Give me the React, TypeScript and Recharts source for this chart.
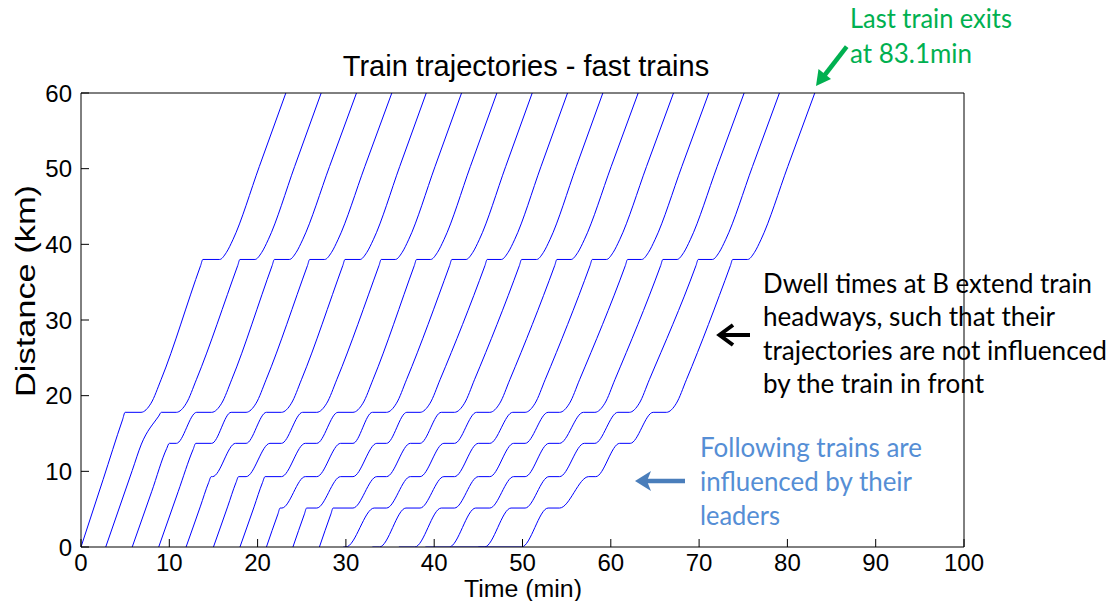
import React from "react";
import { LineChart, Line, XAxis, YAxis } from "recharts";

// ---- axis ticks ----
const X_TICKS = [0, 10, 20, 30, 40, 50, 60, 70, 80, 90, 100];
const Y_TICKS = [0, 10, 20, 30, 40, 50, 60];

// ---- train trajectories: [time (min), distance (km)] key points ----
type P = [number, number];
const TRAIN_01: P[] = [[0,0],[2.5,8.9],[4.7,16.8],[5.0,17.8],[6.8,17.8],[7.93,19.0],[9.06,22.1],[13.55,37.2],[13.8,38],[15.7,38],[16.45,38.9],[17.2,40.6],[20.2,50.3],[23.2,60]];
const TRAIN_02: P[] = [[2.8,0],[5.8,10.1],[6.84,13.6],[8.8,17.3],[9.1,17.8],[10.8,17.8],[11.93,19.0],[13.06,22.1],[17.75,37.2],[18.0,38],[19.7,38],[20.45,38.9],[21.2,40.6],[24.2,50.3],[27.2,60]];
const TRAIN_03: P[] = [[5.8,0],[8.0,7.3],[9.7,13.0],[10.0,13.7],[10.8,13.7],[13.1,17.8],[14.8,17.8],[15.93,19.0],[17.06,22.1],[21.65,37.2],[21.9,38],[23.6,38],[24.35,38.9],[25.1,40.6],[28.15,50.3],[31.2,60]];
const TRAIN_04: P[] = [[8.8,0],[11.0,7.3],[12.7,12.9],[13.0,13.7],[14.8,13.7],[17.0,17.8],[18.7,17.8],[19.83,19.0],[20.96,22.1],[25.65,37.2],[25.9,38],[27.6,38],[28.35,38.9],[29.1,40.6],[32.15,50.3],[35.2,60]];
const TRAIN_05: P[] = [[11.9,0],[13.5,5.3],[14.45,8.5],[14.75,9.3],[14.9,9.3],[17.5,13.7],[18.7,13.7],[21.0,17.8],[22.7,17.8],[23.83,19.0],[24.96,22.1],[29.65,37.2],[29.9,38],[31.6,38],[32.35,38.9],[33.1,40.6],[36.1,50.3],[39.1,60]];
const TRAIN_06: P[] = [[15.0,0],[16.6,5.3],[17.55,8.5],[17.85,9.3],[18.7,9.3],[21.4,13.7],[22.7,13.7],[25.1,17.8],[26.7,17.8],[27.83,19.0],[28.96,22.1],[33.75,37.2],[34.0,38],[35.6,38],[36.35,38.9],[37.1,40.6],[40.1,50.3],[43.1,60]];
const TRAIN_07: P[] = [[18.0,0],[19.6,5.3],[20.55,8.5],[20.85,9.3],[22.7,9.3],[25.4,13.7],[26.7,13.7],[29.1,17.8],[30.8,17.8],[31.93,19.0],[33.06,22.1],[37.75,37.2],[38.0,38],[39.6,38],[40.35,38.9],[41.1,40.6],[44.1,50.3],[47.1,60]];
const TRAIN_08: P[] = [[21.0,0],[22.3,4.35],[22.55,5.15],[22.75,5.15],[25.4,9.3],[26.7,9.3],[29.4,13.7],[30.8,13.7],[33.0,17.8],[34.6,17.8],[35.73,19.0],[36.86,22.1],[41.75,37.2],[42.0,38],[43.6,38],[44.35,38.9],[45.1,40.6],[48.1,50.3],[51.1,60]];
const TRAIN_09: P[] = [[24.0,0],[25.3,4.35],[25.55,5.15],[26.7,5.15],[29.4,9.3],[30.8,9.3],[33.5,13.7],[34.6,13.7],[36.9,17.8],[38.4,17.8],[39.53,19.0],[40.66,22.1],[45.75,37.2],[46.0,38],[47.6,38],[48.35,38.9],[49.1,40.6],[52.1,50.3],[55.1,60]];
const TRAIN_10: P[] = [[27.0,0],[28.3,4.35],[28.55,5.15],[30.8,5.15],[33.5,9.3],[34.6,9.3],[37.3,13.7],[38.4,13.7],[40.8,17.8],[42.3,17.8],[43.43,19.0],[44.56,22.1],[49.65,37.2],[49.9,38],[51.6,38],[52.35,38.9],[53.1,40.6],[56.1,50.3],[59.1,60]];
const TRAIN_11: P[] = [[29.7,0],[30.0,0],[33.2,5.15],[34.6,5.15],[37.3,9.3],[38.4,9.3],[41.1,13.7],[42.3,13.7],[44.8,17.8],[46.3,17.8],[47.43,19.0],[48.56,22.1],[53.65,37.2],[53.9,38],[55.5,38],[56.25,38.9],[57.0,40.6],[60.05,50.3],[63.1,60]];
const TRAIN_12: P[] = [[33.0,0],[33.8,0],[36.8,5.15],[38.4,5.15],[41.1,9.3],[42.3,9.3],[45.0,13.7],[46.3,13.7],[48.9,17.8],[50.3,17.8],[51.43,19.0],[52.56,22.1],[57.65,37.2],[57.9,38],[59.5,38],[60.25,38.9],[61.0,40.6],[64.05,50.3],[67.1,60]];
const TRAIN_13: P[] = [[36.0,0],[37.8,0],[40.8,5.15],[42.3,5.15],[45.0,9.3],[46.3,9.3],[49.0,13.7],[50.3,13.7],[52.9,17.8],[54.2,17.8],[55.33,19.0],[56.46,22.1],[61.65,37.2],[61.9,38],[63.5,38],[64.25,38.9],[65.0,40.6],[68.05,50.3],[71.1,60]];
const TRAIN_14: P[] = [[39.0,0],[41.7,0],[44.7,5.15],[46.3,5.15],[49.0,9.3],[50.3,9.3],[53.0,13.7],[54.2,13.7],[56.9,17.8],[58.2,17.8],[59.33,19.0],[60.46,22.1],[65.65,37.2],[65.9,38],[67.5,38],[68.25,38.9],[69.0,40.6],[72.05,50.3],[75.1,60]];
const TRAIN_15: P[] = [[42.0,0],[45.7,0],[48.7,5.15],[50.3,5.15],[53.0,9.3],[54.2,9.3],[57.0,13.7],[58.2,13.7],[60.8,17.8],[62.1,17.8],[63.23,19.0],[64.36,22.1],[69.65,37.2],[69.9,38],[71.5,38],[72.25,38.9],[73.0,40.6],[76.05,50.3],[79.1,60]];
const TRAIN_16: P[] = [[45.0,0],[49.9,0],[52.9,5.15],[54.2,5.15],[57.5,9.3],[58.3,9.3],[61.0,13.7],[62.2,13.7],[64.8,17.8],[66.3,17.8],[67.43,19.0],[68.56,22.1],[73.55,37.2],[73.8,38],[75.5,38],[76.25,38.9],[77.0,40.6],[80.05,50.3],[83.1,60]];

const TRAINS: P[][] = [
  TRAIN_01, TRAIN_02, TRAIN_03, TRAIN_04, TRAIN_05, TRAIN_06, TRAIN_07, TRAIN_08,
  TRAIN_09, TRAIN_10, TRAIN_11, TRAIN_12, TRAIN_13, TRAIN_14, TRAIN_15, TRAIN_16,
];

const SERIES = TRAINS.map((pts) => pts.map(([t, d]) => ({ t, d })));

// ---- text ----
const TITLE = "Train trajectories - fast trains";
const X_LABEL = "Time (min)";
const Y_LABEL = "Distance (km)";
const NOTE_GREEN = ["Last train exits", "at 83.1min"];
const NOTE_BLACK = [
  "Dwell times at B extend train",
  "headways, such that their",
  "trajectories are not influenced",
  "by the train in front",
];
const NOTE_BLUE = ["Following trains are", "influenced by their", "leaders"];

const CHART_W = 1104;
const CHART_H = 593;
const AXIS_FONT = "'Liberation Sans', Arial, Helvetica, sans-serif";
const NOTE_FONT = "Lato, 'Open Sans', sans-serif";
const tickStyle = { fontFamily: AXIS_FONT, fontSize: 24, fill: "#000" };

export default function App() {
  return (
    <div style={{ position: "relative", width: CHART_W, height: CHART_H }}>
      <LineChart
        width={CHART_W}
        height={CHART_H}
        margin={{ top: 84, right: 147, bottom: 24, left: 0 }}
      >
        <XAxis
          xAxisId="b"
          dataKey="t"
          type="number"
          domain={[0, 100]}
          ticks={X_TICKS}
          allowDataOverflow
          height={30}
          tick={tickStyle}
          tickSize={-8}
          tickMargin={15}
          axisLine={{ stroke: "#000", strokeWidth: 1 }}
          tickLine={{ stroke: "#000", strokeWidth: 1 }}
        />
        <XAxis
          xAxisId="t"
          orientation="top"
          dataKey="t"
          type="number"
          domain={[0, 100]}
          ticks={X_TICKS}
          allowDataOverflow
          height={1}
          tick={false}
          tickSize={-8}
          axisLine={{ stroke: "#000", strokeWidth: 1 }}
          tickLine={{ stroke: "#000", strokeWidth: 1 }}
        />
        <YAxis
          yAxisId="l"
          type="number"
          domain={[0, 60]}
          ticks={Y_TICKS}
          allowDataOverflow
          width={73}
          tick={tickStyle}
          tickSize={-8}
          tickMargin={17}
          axisLine={{ stroke: "#000", strokeWidth: 1 }}
          tickLine={{ stroke: "#000", strokeWidth: 1 }}
        />
        <YAxis
          yAxisId="r"
          orientation="right"
          type="number"
          domain={[0, 60]}
          ticks={Y_TICKS}
          allowDataOverflow
          width={1}
          tick={false}
          tickSize={-8}
          axisLine={{ stroke: "#000", strokeWidth: 1 }}
          tickLine={{ stroke: "#000", strokeWidth: 1 }}
        />
        {SERIES.map((s, i) => (
          <Line
            key={i}
            xAxisId="b"
            yAxisId="l"
            data={s}
            dataKey="d"
            type="monotoneX"
            stroke="#0000ff"
            strokeWidth={1}
            dot={false}
            activeDot={false}
            isAnimationActive={false}
          />
        ))}
      </LineChart>
      <svg
        width={1112}
        height={593}
        overflow="visible"
        style={{ position: "absolute", left: -8, top: -8, pointerEvents: "none", overflow: "visible" }}
      >
        <text x={526} y={76} textAnchor="middle" fontFamily={AXIS_FONT} fontSize={29} fill="#000">
          {TITLE}
        </text>
        <text
          x={523}
          y={597}
          textAnchor="middle"
          fontFamily={AXIS_FONT}
          fontSize={23}
          fill="#000"
          textLength={118}
          lengthAdjust="spacingAndGlyphs"
        >
          {X_LABEL}
        </text>
        <text
          x={0}
          y={0}
          transform="translate(35,291) rotate(-90)"
          textAnchor="middle"
          fontFamily={AXIS_FONT}
          fontSize={27}
          fill="#000"
          textLength={212}
          lengthAdjust="spacingAndGlyphs"
        >
          {Y_LABEL}
        </text>

        {/* green note */}
        <text x={850} y={28} fontFamily={NOTE_FONT} fontSize={27} fill="#00b050" textLength={162} lengthAdjust="spacingAndGlyphs">
          {NOTE_GREEN[0]}
        </text>
        <text x={850} y={63} fontFamily={NOTE_FONT} fontSize={27} fill="#00b050" textLength={122} lengthAdjust="spacingAndGlyphs">
          {NOTE_GREEN[1]}
        </text>
        <line x1={846.7} y1={46.7} x2={824} y2={76} stroke="#00b050" strokeWidth={4.5} />
        <polygon points="816,86 831,79 818.5,69" fill="#00b050" />

        {/* black note */}
        {NOTE_BLACK.map((s, i) => (
          <text
            key={i}
            x={763}
            y={293 + i * 33.4}
            fontFamily={NOTE_FONT}
            fontSize={27}
            fill="#000"
            textLength={[329, 292, 344, 221][i]}
            lengthAdjust="spacingAndGlyphs"
          >
            {s}
          </text>
        ))}
        <line x1={720} y1={335} x2={750} y2={335} stroke="#000" strokeWidth={4} />
        <polyline points="733,325 719.5,335 733,345" fill="none" stroke="#000" strokeWidth={4} />

        {/* blue note */}
        {NOTE_BLUE.map((s, i) => (
          <text
            key={i}
            x={700}
            y={457 + i * 34}
            fontFamily={NOTE_FONT}
            fontSize={26}
            fill="#558ed5"
            textLength={[222, 212, 80][i]}
            lengthAdjust="spacingAndGlyphs"
          >
            {s}
          </text>
        ))}
        <line x1={640} y1={481} x2={685} y2={481} stroke="#4a7ebb" strokeWidth={4.5} />
        <polygon points="635,481 651,471 647,481 651,491" fill="#4a7ebb" />
      </svg>
    </div>
  );
}
